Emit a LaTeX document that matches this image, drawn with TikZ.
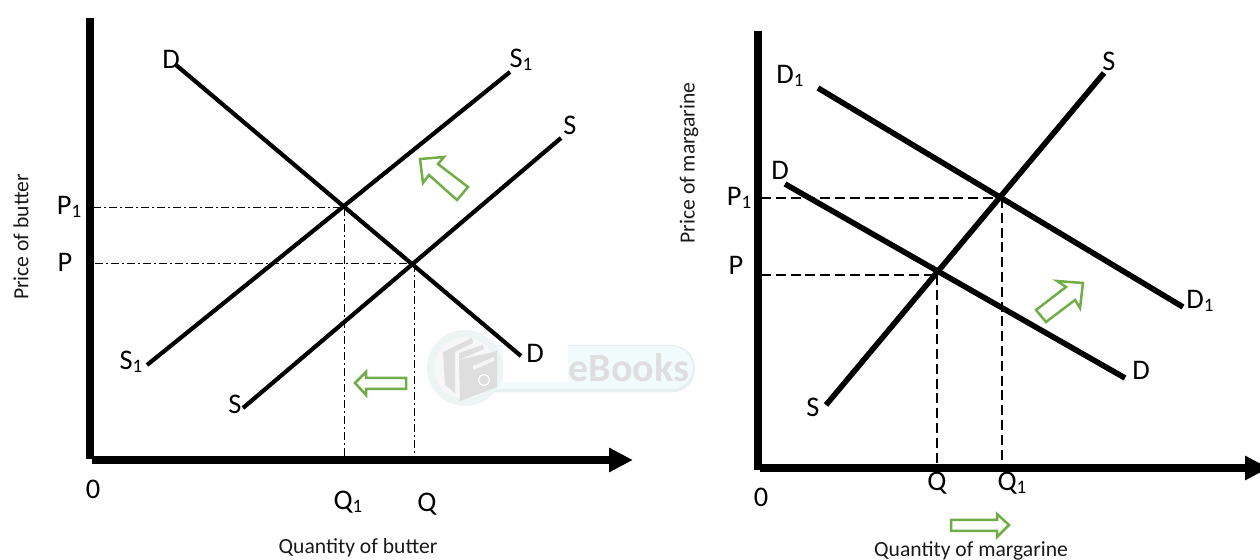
\documentclass[tikz,border=0pt]{standalone}
\usepackage{fontspec}
\setmainfont{Carlito}
\usetikzlibrary{arrows.meta}
\definecolor{arrowgreen}{HTML}{70AD47}
\definecolor{wmring}{HTML}{ECF4F4}
\definecolor{wmbar}{HTML}{F1FBFC}
\definecolor{wmedge}{HTML}{E6F0F0}
\definecolor{wmgray}{HTML}{DEDEDE}
\tikzset{
  lab/.style={inner sep=0pt,font=\fontsize{14.2}{16}\selectfont,text=black},
  small/.style={inner sep=0pt,font=\fontsize{10.8}{12}\selectfont,text=black!90},
  axis/.style={line width=3.65pt,-{Triangle[length=12pt,width=11.5pt]}},
  axisv/.style={line width=3.65pt},
  curveA/.style={line width=2.1pt},
  curveB/.style={line width=2.8pt},
  dd/.style={line width=0.5pt,dash pattern=on 4pt off 1.5pt on 1pt off 1.5pt},
  da/.style={line width=0.55pt,dash pattern=on 5pt off 2.4pt},
  blockarrow/.style={draw=arrowgreen,line width=1.25pt,fill=white,line join=miter}
}
\newcommand{\lsub}[2]{#1\raisebox{-0.22ex}{\fontsize{9.5}{10}\selectfont #2}}
\begin{document}
\begin{tikzpicture}[x=0.5pt,y=-0.5pt]
\useasboundingbox (0,0) rectangle (1260,560);
% watermark
\fill[wmedge,rounded corners=11.5pt] (470,345) rectangle (695,392.5);
\fill[wmbar,rounded corners=11pt] (470,346) rectangle (693,389);
\fill[white] (503,300) rectangle (568,382);
\fill[wmring] (465,368) circle (38);
\fill[black!3] (465,368) circle (31);
\fill[wmgray] (443,352) -- (472,338) -- (473,343) -- (455,352) -- (455,393) -- (445,385) -- cycle;
\fill[wmgray] (459,353) -- (483,345) -- (484,349) -- (459,360) -- cycle;
\fill[wmgray] (459,360) -- (497,351) -- (497,387) -- (460,401) -- cycle;
\fill[white!70!wmgray] (473,366) -- (494,357) -- (494,361) -- (473,370) -- cycle;
\draw[white,line width=0.6pt] (484,380) circle (5.5);
\node[inner sep=0pt,font=\fontsize{20}{22}\selectfont\bfseries,text=wmgray] (wm) at (629,368) {eBooks};
% coordinates left
\coordinate (yL) at (90,18); \coordinate (oL) at (90,459);
\coordinate (oxL) at (92,460); \coordinate (xL) at (633,460);
\coordinate (dA) at (176,65); \coordinate (dB) at (521,356);
\coordinate (s1A) at (147,365); \coordinate (s1B) at (510,72);
\coordinate (sA) at (243,408); \coordinate (sB) at (561,138);
\coordinate (p1a) at (93,208); \coordinate (e1) at (344,208);
\coordinate (pa) at (95,264); \coordinate (e2) at (412,264);
\coordinate (q1b) at (344,458); \coordinate (qb) at (414.5,458);
\draw[axisv] (yL) -- (oL);
\draw[axis] (oxL) -- (xL);
\draw[curveA] (dA) -- (dB);
\draw[curveA] (s1A) -- (s1B);
\draw[curveA] (sA) -- (sB);
\draw[dd] (p1a) -- (e1);
\draw[dd] (pa) -- (e2);
\draw[dd] (e1) -- (q1b);
\draw[dd] (e2 -| qb) -- (qb);
\node[lab] (tD) at (171,59) {D};
\node[lab] (tS1t) at (521,60) {\lsub{S}{1}};
\node[lab] (tS) at (570,125) {S};
\node[lab] (tDb) at (535,353) {D};
\node[lab] (tS1b) at (131,362) {\lsub{S}{1}};
\node[lab] (tSb) at (235,404) {S};
\node[lab] (tP1) at (69,207) {\lsub{P}{1}};
\node[lab] (tP) at (65,262) {P};
\node[lab] (t0) at (93,489) {0};
\node[lab] (tQ1) at (348,502) {\lsub{Q}{1}};
\node[lab] (tQ) at (427,504) {Q};
\node[small,rotate=90] (yb) at (21,237) {Price of butter};
\node[small] (xb) at (358,548) {Quantity of butter};
\draw[blockarrow] (420,159) -- (444,157) -- (438,164) -- (468,187) -- (457,200) -- (429,175) -- (423,183) -- cycle;
\draw[blockarrow] (355,383) -- (366,372) -- (366,378) -- (406,378) -- (406,389) -- (366,389) -- (366,395) -- cycle;
% right
\coordinate (yR) at (758,31); \coordinate (oR) at (758,470);
\coordinate (oxR) at (760,468); \coordinate (xR) at (1269,468);
\coordinate (d1A) at (818,88); \coordinate (d1B) at (1183,307);
\coordinate (d2A) at (785,184); \coordinate (d2B) at (1125,378);
\coordinate (ssA) at (826,405); \coordinate (ssB) at (1104,73);
\coordinate (p1r) at (761,198); \coordinate (e3) at (1002,198);
\coordinate (pr) at (761,275); \coordinate (e4) at (937,275);
\coordinate (qr) at (937,464); \coordinate (q1r) at (1002,464);
\draw[axisv] (yR) -- (oR);
\draw[axis] (oxR) -- (xR);
\draw[curveB] (d1A) -- (d1B);
\draw[curveB] (d2A) -- (d2B);
\draw[curveB] (ssA) -- (ssB);
\draw[da] (p1r) -- (e3);
\draw[da] (pr) -- (e4);
\draw[da] (e3) -- (q1r);
\draw[da] (e4) -- (qr);
\node[lab] (rD1) at (790,76) {\lsub{D}{1}};
\node[lab] (rS) at (1109,61) {S};
\node[lab] (rD) at (780,170) {D};
\node[lab] (rP1) at (739,198) {\lsub{P}{1}};
\node[lab] (rP) at (736,265) {P};
\node[lab] (rD1b) at (1200,301) {\lsub{D}{1}};
\node[lab] (rDb) at (1141,370) {D};
\node[lab] (rSb) at (813,407) {S};
\node[lab] (r0) at (761,497) {0};
\node[lab] (rQ) at (937,483) {Q};
\node[lab] (rQ1) at (1012,483) {\lsub{Q}{1}};
\node[small,rotate=90] (yr) at (689,163) {Price of margarine};
\node[small] (xr) at (971,551) {Quantity of margarine};
\draw[blockarrow] (1083,283) -- (1080,308) -- (1075,300) -- (1046,322) -- (1036,310) -- (1066,287) -- (1057,281) -- cycle;
\draw[blockarrow] (1009,525) -- (997,514) -- (997,520) -- (951,520) -- (951,531) -- (997,531) -- (997,537) -- cycle;
\end{tikzpicture}
\end{document}
